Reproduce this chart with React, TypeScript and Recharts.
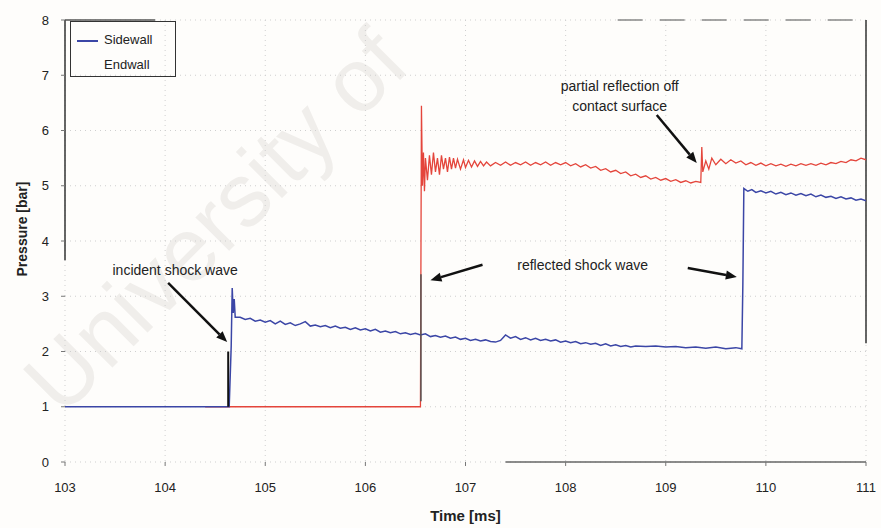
import React from "react";
import {
  LineChart,
  Line,
  XAxis,
  YAxis,
  CartesianGrid,
  ReferenceLine,
  ReferenceDot,
} from "recharts";

// ─── Data (time in ms, pressure in bar) ──────────────────────────────────────
const TIME_TICKS = [103, 104, 105, 106, 107, 108, 109, 110, 111];
const PRESSURE_TICKS = [0, 1, 2, 3, 4, 5, 6, 7, 8];

const sidewallPoints: [number, number][] = [
  [103.0, 1.0], [104.64, 1.0], [104.66, 2.1], [104.67, 3.15], [104.68, 2.7],
  [104.69, 2.95], [104.7, 2.62], [104.75, 2.62], [104.8, 2.58], [104.85, 2.6],
  [104.9, 2.55], [104.95, 2.57], [105.0, 2.53], [105.05, 2.56], [105.1, 2.5],
  [105.15, 2.55], [105.2, 2.49], [105.25, 2.52], [105.3, 2.47], [105.35, 2.5],
  [105.4, 2.54], [105.45, 2.46], [105.5, 2.48], [105.55, 2.45], [105.6, 2.47],
  [105.65, 2.43], [105.7, 2.46], [105.75, 2.42], [105.8, 2.44], [105.85, 2.4],
  [105.9, 2.43], [105.95, 2.39], [106.0, 2.41], [106.05, 2.37], [106.1, 2.4],
  [106.15, 2.35], [106.2, 2.37], [106.25, 2.34], [106.3, 2.36], [106.35, 2.32],
  [106.4, 2.34], [106.45, 2.31], [106.5, 2.33], [106.55, 2.3], [106.6, 2.32],
  [106.65, 2.27], [106.7, 2.29], [106.75, 2.26], [106.8, 2.28], [106.85, 2.24],
  [106.9, 2.26], [106.95, 2.22], [107.0, 2.24], [107.05, 2.2], [107.1, 2.22],
  [107.15, 2.19], [107.2, 2.21], [107.25, 2.18], [107.3, 2.17], [107.35, 2.2],
  [107.4, 2.3], [107.45, 2.24], [107.5, 2.27], [107.55, 2.22], [107.6, 2.25],
  [107.65, 2.21], [107.7, 2.24], [107.75, 2.2], [107.8, 2.22], [107.85, 2.19],
  [107.9, 2.21], [107.95, 2.17], [108.0, 2.19], [108.05, 2.16], [108.1, 2.18],
  [108.15, 2.14], [108.2, 2.16], [108.25, 2.13], [108.3, 2.15], [108.35, 2.11],
  [108.4, 2.14], [108.45, 2.1], [108.5, 2.12], [108.55, 2.09], [108.6, 2.11],
  [108.65, 2.08], [108.7, 2.1], [108.8, 2.09], [108.9, 2.1], [109.0, 2.08],
  [109.1, 2.09], [109.2, 2.07], [109.3, 2.08], [109.4, 2.06], [109.5, 2.08],
  [109.6, 2.05], [109.7, 2.07], [109.76, 2.05], [109.77, 3.2], [109.78, 4.95],
  [109.82, 4.9], [109.86, 4.93], [109.9, 4.88], [109.95, 4.91], [110.0, 4.87],
  [110.05, 4.9], [110.1, 4.85], [110.15, 4.88], [110.2, 4.84], [110.25, 4.87],
  [110.3, 4.83], [110.35, 4.86], [110.4, 4.82], [110.45, 4.85], [110.5, 4.8],
  [110.55, 4.83], [110.6, 4.79], [110.65, 4.81], [110.7, 4.77], [110.75, 4.8],
  [110.8, 4.76], [110.85, 4.78], [110.9, 4.74], [110.95, 4.76], [111.0, 4.73],
];

const endwallPoints: [number, number][] = [
  [104.4, 1.0], [106.55, 1.0], [106.56, 6.45], [106.57, 5.0], [106.58, 5.6],
  [106.59, 4.9], [106.6, 5.5], [106.62, 5.1], [106.64, 5.55], [106.66, 5.2],
  [106.68, 5.6], [106.7, 5.25], [106.72, 5.5], [106.74, 5.2], [106.76, 5.55],
  [106.78, 5.3], [106.8, 5.5], [106.82, 5.25], [106.84, 5.52], [106.86, 5.3],
  [106.88, 5.5], [106.9, 5.32], [106.92, 5.48], [106.95, 5.3], [106.98, 5.47],
  [107.0, 5.33], [107.03, 5.46], [107.06, 5.34], [107.09, 5.45], [107.12, 5.35],
  [107.15, 5.44], [107.18, 5.36], [107.21, 5.43], [107.25, 5.36], [107.3, 5.42],
  [107.35, 5.37], [107.4, 5.43], [107.45, 5.37], [107.5, 5.42], [107.55, 5.38],
  [107.6, 5.43], [107.65, 5.37], [107.7, 5.42], [107.75, 5.38], [107.8, 5.43],
  [107.85, 5.37], [107.9, 5.42], [107.95, 5.38], [108.0, 5.42], [108.05, 5.36],
  [108.1, 5.4], [108.15, 5.34], [108.2, 5.38], [108.25, 5.32], [108.3, 5.35],
  [108.35, 5.28], [108.4, 5.31], [108.45, 5.25], [108.5, 5.28], [108.55, 5.22],
  [108.6, 5.25], [108.65, 5.18], [108.7, 5.21], [108.75, 5.15], [108.8, 5.18],
  [108.85, 5.12], [108.9, 5.15], [108.95, 5.1], [109.0, 5.13], [109.05, 5.08],
  [109.1, 5.11], [109.15, 5.06], [109.2, 5.09], [109.25, 5.05], [109.3, 5.08],
  [109.35, 5.06], [109.36, 5.7], [109.37, 5.25], [109.4, 5.45], [109.43, 5.3],
  [109.46, 5.5], [109.5, 5.38], [109.55, 5.48], [109.6, 5.4], [109.65, 5.47],
  [109.7, 5.41], [109.75, 5.45], [109.8, 5.38], [109.85, 5.42], [109.9, 5.37],
  [109.95, 5.41], [110.0, 5.36], [110.05, 5.4], [110.1, 5.36], [110.15, 5.39],
  [110.2, 5.35], [110.25, 5.39], [110.3, 5.36], [110.35, 5.4], [110.4, 5.37],
  [110.45, 5.4], [110.5, 5.37], [110.55, 5.41], [110.6, 5.38], [110.65, 5.42],
  [110.7, 5.4], [110.75, 5.44], [110.8, 5.42], [110.85, 5.47], [110.9, 5.45],
  [110.95, 5.5], [111.0, 5.47],
];

const notes = [
  { t: 104.1, p: 3.475, text: "incident shock wave" },
  { t: 108.17, p: 3.57, text: "reflected shock wave" },
  { t: 108.54, p: 6.8, text: "partial reflection off" },
  { t: 108.54, p: 6.44, text: "contact surface" },
];

const arrows: { from: [number, number]; to: [number, number] }[] = [
  { from: [104.03, 3.24], to: [104.62, 2.17] },
  { from: [107.17, 3.57], to: [106.65, 3.29] },
  { from: [109.22, 3.51], to: [109.71, 3.35] },
  { from: [108.91, 6.28], to: [109.31, 5.41] },
];

const sidewall = sidewallPoints.map(([t, p]) => ({ t, p }));
const endwall = endwallPoints.map(([t, p]) => ({ t, p }));

// ─── Palette / fonts ─────────────────────────────────────────────────────────
const FONT = "'Liberation Sans', Arial, sans-serif";
const BLUE = "#3b46a6";
const RED = "#e4453b";
const INK = "#222";

// ─── Pieces ──────────────────────────────────────────────────────────────────
function ArrowShape(props: any) {
  const { x1, y1, x2, y2 } = props;
  const a = Math.atan2(y2 - y1, x2 - x1);
  const len = 11;
  const half = 4.5;
  const bx = x2 - len * Math.cos(a);
  const by = y2 - len * Math.sin(a);
  const px = -Math.sin(a) * half;
  const py = Math.cos(a) * half;
  return (
    <g>
      <line x1={x1} y1={y1} x2={bx} y2={by} stroke="#111" strokeWidth={2.5} />
      <polygon
        points={`${x2},${y2} ${bx + px},${by + py} ${bx - px},${by - py}`}
        fill="#111"
      />
    </g>
  );
}

function NoteText(text: string) {
  return (props: any) => (
    <text
      x={props.cx}
      y={props.cy}
      textAnchor="middle"
      dominantBaseline="central"
      fontFamily={FONT}
      fontSize={14}
      fill={INK}
    >
      {text}
    </text>
  );
}

function LegendBox() {
  return (
    <div
      style={{
        position: "absolute",
        left: 70,
        top: 21,
        width: 104,
        height: 54,
        border: "1px solid #333",
        fontFamily: FONT,
        fontSize: 13,
        color: INK,
      }}
    >
      <div style={{ position: "absolute", left: 6, top: 18, width: 21, height: 1.5, background: BLUE }} />
      <div style={{ position: "absolute", left: 33, top: 10 }}>Sidewall</div>
      <div style={{ position: "absolute", left: 33, top: 35 }}>Endwall</div>
    </div>
  );
}

export default function App() {
  return (
    <div
      style={{
        position: "absolute",
        left: 0,
        top: 0,
        width: 881,
        height: 528,
        background: "#fefdfb",
        overflow: "hidden",
      }}
    >
      <svg width={881} height={528} style={{ position: "absolute", left: 0, top: 0 }}>
        <text
          x={62}
          y={418}
          transform="rotate(-45 62 418)"
          fontFamily={FONT}
          fontSize={90}
          fill="#f0eeeb"
        >
          University of
        </text>
      </svg>
      <div style={{ position: "absolute", left: 0, top: 0 }}>
        <LineChart
          width={881}
          height={528}
          margin={{ top: 20, right: 15, bottom: 0, left: 0 }}
        >
          <CartesianGrid stroke="#cfcfcf" strokeDasharray="1 4" />
          <XAxis
            dataKey="t"
            type="number"
            domain={[103, 111]}
            ticks={TIME_TICKS}
            allowDataOverflow
            height={66}
            axisLine={false}
            tickLine={{ stroke: "#777" }}
            tickSize={4}
            tickMargin={17}
            tick={{ fill: INK, fontSize: 13, fontFamily: FONT }}
            label={(p: any) => {
              const cx = p.viewBox.x + p.viewBox.width / 2;
              return (
                <text
                  x={cx}
                  y={515}
                  textAnchor="middle"
                  dominantBaseline="central"
                  fontFamily={FONT}
                  fontSize={15}
                  fontWeight="bold"
                  fill={INK}
                >
                  Time [ms]
                </text>
              );
            }}
          />
          <YAxis
            type="number"
            domain={[0, 8]}
            ticks={PRESSURE_TICKS}
            width={65}
            axisLine={false}
            tickLine={{ stroke: "#777" }}
            tickSize={4}
            tickMargin={12}
            tick={{ fill: INK, fontSize: 13, fontFamily: FONT }}
            label={(p: any) => {
              const cy = p.viewBox.y + p.viewBox.height / 2 - 12;
              return (
                <text
                  x={22}
                  y={cy}
                  transform={`rotate(-90 22 ${cy})`}
                  textAnchor="middle"
                  dominantBaseline="central"
                  fontFamily={FONT}
                  fontSize={14}
                  fontWeight="bold"
                  fill={INK}
                >
                  Pressure [bar]
                </text>
              );
            }}
          />

          {/* fragments of the plot frame */}
          <ReferenceLine segment={[{ x: 103, y: 8 }, { x: 103, y: 3.65 }]} stroke="#333" strokeWidth={1.5} />
          <ReferenceLine segment={[{ x: 103, y: 8 }, { x: 103.9, y: 8 }]} stroke="#555" strokeWidth={1.5} />
          <ReferenceLine segment={[{ x: 108.52, y: 8 }, { x: 111, y: 8 }]} stroke="#888" strokeWidth={1.5} strokeDasharray="25 17" />
          <ReferenceLine segment={[{ x: 107.4, y: 0 }, { x: 111, y: 0 }]} stroke="#666" strokeWidth={1.5} />
          <ReferenceLine segment={[{ x: 111, y: 8 }, { x: 111, y: 2.15 }]} stroke="#333" strokeWidth={1.5} />

          <Line
            data={endwall}
            dataKey="p"
            name="Endwall"
            type="linear"
            stroke={RED}
            strokeWidth={1.3}
            dot={false}
            isAnimationActive={false}
          />
          <Line
            data={sidewall}
            dataKey="p"
            name="Sidewall"
            type="linear"
            stroke={BLUE}
            strokeWidth={1.5}
            dot={false}
            isAnimationActive={false}
          />

          {/* dark transducer traces at the shock arrivals */}
          <ReferenceLine segment={[{ x: 104.63, y: 1 }, { x: 104.63, y: 2.0 }]} stroke="#111" strokeWidth={2} />
          <ReferenceLine segment={[{ x: 106.555, y: 1.1 }, { x: 106.555, y: 3.4 }]} stroke="#555" strokeWidth={1.5} />

          {arrows.map((a, i) => (
            <ReferenceLine
              key={`arrow-${i}`}
              segment={[{ x: a.from[0], y: a.from[1] }, { x: a.to[0], y: a.to[1] }]}
              shape={ArrowShape}
            />
          ))}
          {notes.map((n) => (
            <ReferenceDot key={n.text} x={n.t} y={n.p} r={1} shape={NoteText(n.text)} />
          ))}
        </LineChart>
      </div>
      <LegendBox />
    </div>
  );
}
